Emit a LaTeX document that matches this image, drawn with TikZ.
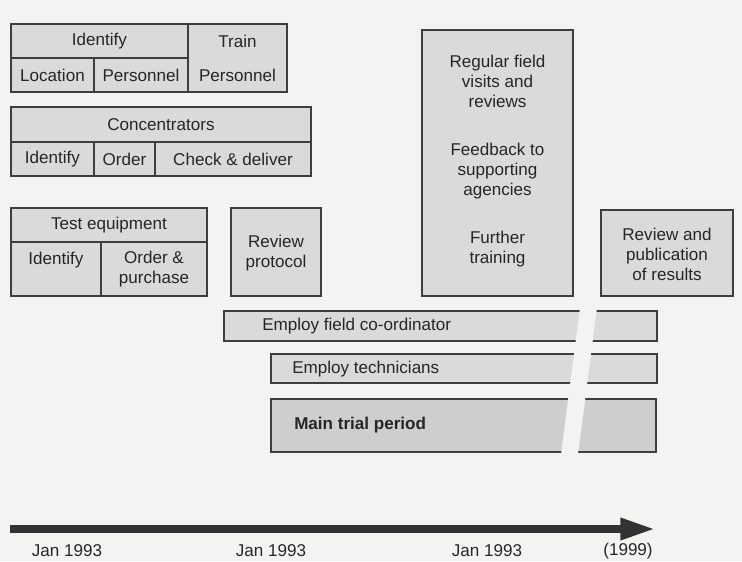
\documentclass[tikz,border=0pt]{standalone}
\usepackage{fontspec}
\setmainfont{Liberation Sans}
\usetikzlibrary{arrows.meta}
\definecolor{paper}{RGB}{243,243,242}
\definecolor{boxfill}{RGB}{218,218,217}
\definecolor{mainfill}{RGB}{206,206,205}
\definecolor{edge}{RGB}{62,62,62}
\definecolor{ink}{RGB}{38,38,38}
\tikzset{
  cell/.style={draw=edge,fill=boxfill,line width=1.3pt},
  txt/.style={text=ink,font=\fontsize{12.8}{15}\selectfont,inner sep=0pt,align=center},
}
\begin{document}
\begin{tikzpicture}[x=0.75pt,y=0.75pt,yscale=-1,xscale=1]
\path [fill=paper] (0,0) rectangle (742,561);

%Shape: Rectangle (identify / train)
\draw [cell] (11,24) rectangle (287,92);
\draw [edge,line width=1.3pt] (11,58) -- (188,58) (188,24) -- (188,92) (94,58) -- (94,92);
\node [txt] (identA) at (99.5,41) {Identify};
\node [txt] (train) at (237.5,41) {Train};
\node [txt] (location) at (52.5,75) {Location};
\node [txt] (persA) at (141,75) {Personnel};
\node [txt] (persB) at (237.5,75) {Personnel};

%Shape: Rectangle (concentrators)
\draw [cell] (11,107) rectangle (311,176);
\draw [edge,line width=1.3pt] (11,142) -- (311,142) (94,142) -- (94,176) (155,142) -- (155,176);
\node [txt] (conc) at (161,125) {Concentrators};
\node [txt] (identB) at (52.5,159.5) {Identify};
\node [txt] (order) at (124.5,159.5) {Order};
\node [txt] (check) at (233,159.5) {Check \& deliver};

%Shape: Rectangle (test equipment)
\draw [cell] (11,208) rectangle (207,296);
\draw [edge,line width=1.3pt] (11,242) -- (207,242) (101,242) -- (101,296);
\node [txt] (testeq) at (109,225) {Test equipment};
\node [txt] (identC) at (56,260) {Identify};
\node [txt] (purchase) at (154,269.5) {Order \&\\purchase};

%Shape: Rectangle (review protocol)
\draw [cell] (231,208) rectangle (321,296);
\node [txt] (protocol) at (276,253.5) {Review\\protocol};

%Shape: Rectangle (field visits)
\draw [cell] (422,30) rectangle (573,296);
\node [txt] (visits) at (497.5,81) {Regular field\\visits and\\reviews};
\node [txt] (feedback) at (497.5,171) {Feedback to\\supporting\\agencies};
\node [txt] (further) at (497.5,249) {Further\\training};

%Shape: Rectangle (results)
\draw [cell] (601,210) rectangle (733,296);
\node [txt] (results) at (667,254.5) {Review and\\publication\\of results};

%Shape: Rectangle (staff bars)
\draw [cell] (224,311) rectangle (657,341);
\node [txt,anchor=west] (coord) at (262,326) {Employ field co-ordinator};
\draw [cell] (271,354) rectangle (657,383);
\node [txt,anchor=west] (techs) at (292,369) {Employ technicians};
\draw [cell,fill=mainfill,line width=2.2pt] (271,399) rectangle (656,452);
\node [txt,anchor=west,font=\fontsize{12.8}{15}\selectfont\bfseries] (trial) at (294,425) {Main trial period};

%Shape: Polygon (time break)
\fill [paper] (581,300) -- (598,300) -- (577,462) -- (560,462) -- cycle;

%Straight Lines (time axis)
\coordinate (tstart) at (10,529);
\coordinate (tend) at (655,529);
\draw [edge!80!black,line width=5.6pt,-{Triangle[length=26pt,width=15.5pt]}] (tstart) -- (tend);
\node [txt] (d1) at (67,551) {Jan 1993};
\node [txt] (d2) at (271,551) {Jan 1993};
\node [txt] (d3) at (487,551) {Jan 1993};
\node [txt] (d4) at (628,551) {(1999)};

\end{tikzpicture}
\end{document}
